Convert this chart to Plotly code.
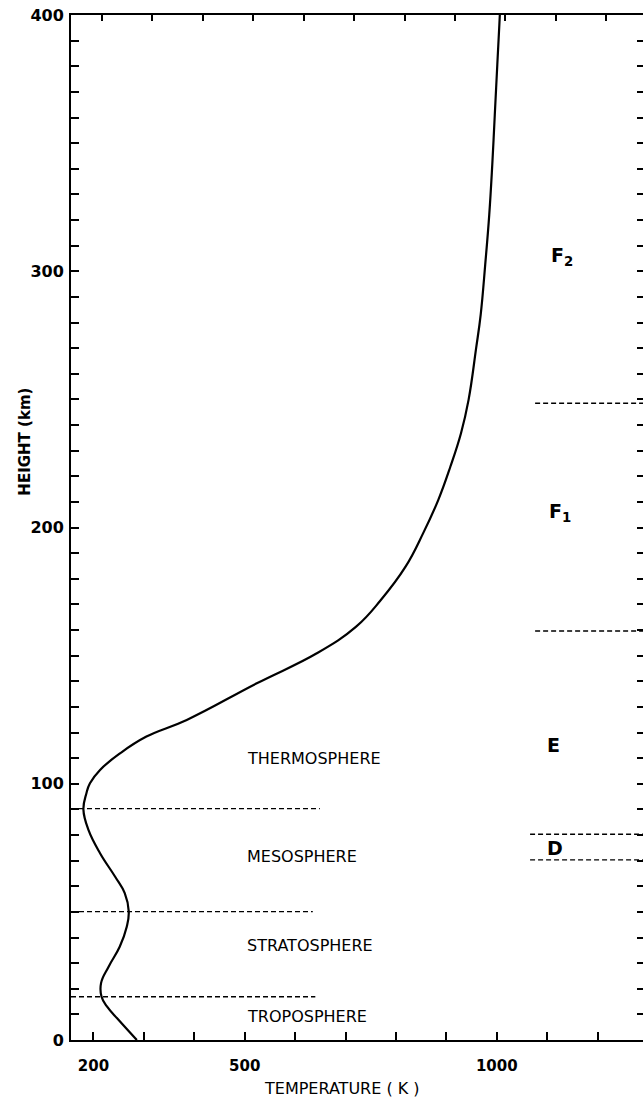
import plotly.graph_objects as go

# Temperature profile (height km, temperature K)
height_km = [0, 7.8, 13, 16.9, 22.2, 28.6, 36.4, 44.2, 50.1, 57.3, 63.7, 72.9, 82, 90,
             96.3, 100.2, 105.4, 111.9, 118.4, 124.9, 139.2, 150.9, 161.3, 171.7, 184.7,
             197.8, 210.8, 223.8, 236.8, 249.8, 270, 283, 302.5, 322, 341.5, 361, 380.6, 396, 400]
temp_k = [286, 250, 227, 216, 215, 230, 252, 266, 270, 262, 243, 213, 190, 180,
          186, 193, 213, 253, 305, 385, 524, 643, 721, 770, 819,
          854, 884, 908, 929, 944, 959, 968, 977, 985, 991, 996, 1001, 1005, 1006]

# Atmospheric layer boundaries (left dashed lines)
layer_bound_km = [16.9, 50.1, 90.3]
layer_bound_end_k = [640, 635, 649]
layer_names = ["TROPOSPHERE", "STRATOSPHERE", "MESOSPHERE", "THERMOSPHERE"]
layer_label_km = [9, 37, 71.5, 110]
layer_label_k = 500

# Ionospheric layer boundaries (right dashed lines)
iono_bound_km = [70.3, 80.3, 159.6, 248.5]
iono_bound_start_k = [1066, 1066, 1076, 1076]
iono_names = ["D", "E", "F<sub>1</sub>", "F<sub>2</sub>"]
iono_label_km = [75, 115, 206, 305.7]
iono_label_k = [1116, 1112, 1125, 1129]

x_range = [155.4, 1290]
y_range = [0, 400]
x_tickvals = list(range(200, 1300, 100))
x_top_tickvals = list(range(217, 1300, 100))
x_ticklabels = {200: "200", 500: "500", 1000: "1000"}
y_tickvals = list(range(0, 401, 10))
y_ticklabels = {0: "0", 100: "100", 200: "200", 300: "300", 400: "400"}

FONT = "DejaVu Sans"

fig = go.Figure()
fig.add_trace(go.Scatter(x=temp_k, y=height_km, mode="lines",
                         line=dict(color="black", width=2.2, shape="spline", smoothing=1.2),
                         hoverinfo="skip", showlegend=False))

for z, xe in zip(layer_bound_km, layer_bound_end_k):
    fig.add_trace(go.Scatter(x=[x_range[0], xe], y=[z, z], mode="lines",
                             line=dict(color="black", width=1.4, dash="5px,3px"), showlegend=False, hoverinfo="skip"))
for z, xs in zip(iono_bound_km, iono_bound_start_k):
    fig.add_trace(go.Scatter(x=[xs, x_range[1]], y=[z, z], mode="lines",
                             line=dict(color="black", width=1.4, dash="5px,3px"), showlegend=False, hoverinfo="skip"))

# invisible traces for right-side and top tick axes
fig.add_trace(go.Scatter(x=[x_range[0]], y=[0], yaxis="y2", mode="markers", marker=dict(opacity=0),
                         showlegend=False, hoverinfo="skip"))
fig.add_trace(go.Scatter(x=[x_range[0]], y=[0], xaxis="x2", mode="markers", marker=dict(opacity=0),
                         showlegend=False, hoverinfo="skip"))

annotations = []
for name, z in zip(layer_names, layer_label_km):
    annotations.append(dict(x=layer_label_k, y=z, text=name, showarrow=False, xanchor="left", yanchor="middle",
                            font=dict(family=FONT, size=16, color="black")))
for name, z, xk in zip(iono_names, iono_label_km, iono_label_k):
    annotations.append(dict(x=xk, y=z, text="<b>" + name + "</b>", showarrow=False, xanchor="center", yanchor="middle",
                            font=dict(family=FONT, size=19, color="black")))
annotations.append(dict(xref="paper", yref="paper", x=-0.080, y=0.584, text="<b>HEIGHT (km)</b>", textangle=-90,
                        showarrow=False, xanchor="center", yanchor="middle", font=dict(family=FONT, size=15, color="black")))
annotations.append(dict(xref="paper", yref="paper", x=0.474, y=-0.047, text="TEMPERATURE ( K )",
                        showarrow=False, xanchor="center", yanchor="middle", font=dict(family=FONT, size=16, color="black")))

fig.update_layout(
    width=644, height=1103,
    margin=dict(l=71, r=1, t=15, b=63),
    paper_bgcolor="white", plot_bgcolor="white",
    showlegend=False,
    annotations=annotations,
    xaxis=dict(range=x_range, showgrid=False, zeroline=False, showline=True, linecolor="black", linewidth=2,
               mirror=True, ticks="inside", ticklen=8, tickwidth=1.5, tickcolor="black",
               tickvals=x_tickvals, ticktext=["<b>" + x_ticklabels[v] + "</b>" if v in x_ticklabels else "" for v in x_tickvals],
               tickfont=dict(family=FONT, size=15, color="black"), ticklabelstandoff=11),
    xaxis2=dict(range=x_range, overlaying="x", side="top", showgrid=False, zeroline=False, showline=False,
                ticks="inside", ticklen=6, tickwidth=1.5, tickcolor="black", tickvals=x_top_tickvals,
                showticklabels=False),
    yaxis=dict(range=y_range, showgrid=False, zeroline=False, showline=True, linecolor="black", linewidth=2,
               ticks="inside", ticklen=8, tickwidth=1.5, tickcolor="black",
               tickvals=y_tickvals, ticktext=["<b>" + y_ticklabels[v] + "</b>" if v in y_ticklabels else "" for v in y_tickvals],
               tickfont=dict(family=FONT, size=16, color="black"), ticklabelstandoff=2),
    yaxis2=dict(range=y_range, overlaying="y", side="right", showgrid=False, zeroline=False, showline=False,
                ticks="inside", ticklen=6, tickwidth=1.5, tickcolor="black", tickvals=y_tickvals, showticklabels=False),
)

fig.write_html("out.html")
